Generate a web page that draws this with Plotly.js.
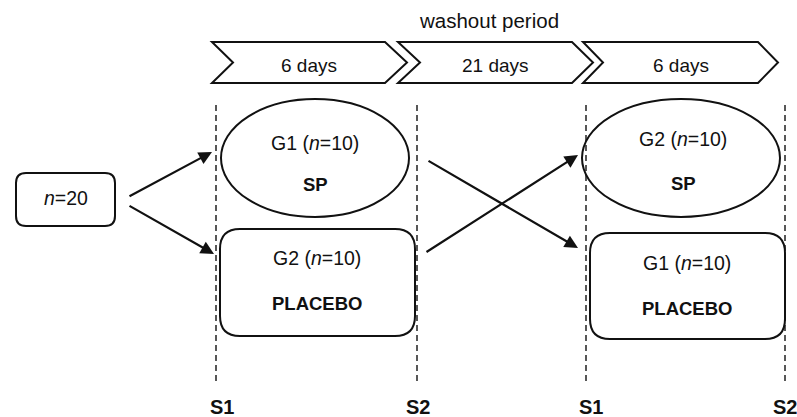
<!DOCTYPE html>
<html>
<head>
<meta charset="utf-8">
<script src="https://cdn.plot.ly/plotly-3.0.1.min.js"></script>
<style>html,body{margin:0;padding:0;background:#fff;}#chart{width:797px;height:417px;}</style>
</head>
<body>
<div id="chart"></div>
<script>
// ---- content (labels) ----
var headerLabel = 'washout period';
var phaseLabels = ['6 days', '21 days', '6 days'];
var totalLabel = '<i>n</i>=20';
var groupLabels = ['G1 (<i>n</i>=10)', 'G2 (<i>n</i>=10)', 'G2 (<i>n</i>=10)', 'G1 (<i>n</i>=10)'];
var treatmentLabels = ['SP', 'PLACEBO', 'SP', 'PLACEBO'];
var sessionLabels = ['S1', 'S2', 'S1', 'S2'];

// ---- layout geometry (diagram coordinates, pixels from top-left) ----
var chevrons = [
  {left: 212, notch: 233, corner: 385, tip: 407},
  {left: 398, notch: 420, corner: 572, tip: 593},
  {left: 583, notch: 603, corner: 758, tip: 778}
];
var chevTop = 42, chevBot = 83, chevMid = 62.5;
var phaseTextPos = [309, 495, 681];
var dashX = [216, 417, 586, 785];
var dashTop = 105, dashBot = 382;
var ellipses = [{x0: 221, x1: 409, y0: 99, y1: 217}, {x0: 582, x1: 780, y0: 99, y1: 217}];
var boxes = [
  {x0: 16, x1: 115, y0: 173, y1: 226, r: 10},
  {x0: 220, x1: 415, y0: 229, y1: 336, r: 20},
  {x0: 590, x1: 785, y0: 233, y1: 339, r: 20}
];
var groupPos = [[315, 143], [317, 258], [683, 139], [687, 263]];
var treatPos = [[315, 184], [317, 303], [683, 183], [687, 308]];
var sessionPos = [222, 418, 591, 785];
var arrows = [
  {from: [128, 197], to: [212, 152]},
  {from: [128, 205], to: [214, 254]},
  {from: [427, 160], to: [578, 248]},
  {from: [425, 253], to: [578, 155]}
];

var FONT = 'Liberation Sans, Arial, sans-serif';
var TXT = '#111';

function roundRect(b) {
  var r = b.r;
  return 'M' + (b.x0 + r) + ',' + b.y0 +
    ' L' + (b.x1 - r) + ',' + b.y0 + ' Q' + b.x1 + ',' + b.y0 + ' ' + b.x1 + ',' + (b.y0 + r) +
    ' L' + b.x1 + ',' + (b.y1 - r) + ' Q' + b.x1 + ',' + b.y1 + ' ' + (b.x1 - r) + ',' + b.y1 +
    ' L' + (b.x0 + r) + ',' + b.y1 + ' Q' + b.x0 + ',' + b.y1 + ' ' + b.x0 + ',' + (b.y1 - r) +
    ' L' + b.x0 + ',' + (b.y0 + r) + ' Q' + b.x0 + ',' + b.y0 + ' ' + (b.x0 + r) + ',' + b.y0 + ' Z';
}

var shapes = [];
chevrons.forEach(function (c) {
  shapes.push({
    type: 'path', xref: 'x', yref: 'y',
    path: 'M' + c.left + ',' + chevTop + ' L' + c.corner + ',' + chevTop + ' L' + c.tip + ',' + chevMid +
      ' L' + c.corner + ',' + chevBot + ' L' + c.left + ',' + chevBot + ' L' + c.notch + ',' + chevMid + ' Z',
    line: {color: '#111', width: 2}, fillcolor: 'rgba(255,255,255,0)'
  });
});
dashX.forEach(function (x) {
  shapes.push({type: 'line', xref: 'x', yref: 'y', x0: x, x1: x, y0: dashTop, y1: dashBot,
    line: {color: '#111', width: 1.4, dash: '6px,4px'}});
});
ellipses.forEach(function (e) {
  shapes.push({type: 'circle', xref: 'x', yref: 'y', x0: e.x0, x1: e.x1, y0: e.y0, y1: e.y1,
    line: {color: '#111', width: 2}, fillcolor: 'rgba(255,255,255,0)'});
});
boxes.forEach(function (b) {
  shapes.push({type: 'path', xref: 'x', yref: 'y', path: roundRect(b),
    line: {color: '#111', width: 2}, fillcolor: 'rgba(255,255,255,0)'});
});

var annotations = [];
function txt(x, y, t, size, bold) {
  annotations.push({x: x, y: y, xref: 'x', yref: 'y', text: bold ? '<b>' + t + '</b>' : t,
    showarrow: false, xanchor: 'center', yanchor: 'middle',
    font: {family: FONT, size: size, color: TXT}});
}
txt(489, 20, headerLabel, 20.5, false);
phaseLabels.forEach(function (t, i) { txt(phaseTextPos[i], 65, t, 19, false); });
txt(66, 198, totalLabel, 19.5, false);
groupLabels.forEach(function (t, i) { txt(groupPos[i][0], groupPos[i][1], t, 19.5, false); });
treatmentLabels.forEach(function (t, i) { txt(treatPos[i][0], treatPos[i][1], t, 18.5, true); });
sessionLabels.forEach(function (t, i) { txt(sessionPos[i], 407, t, 20, true); });
arrows.forEach(function (a) {
  annotations.push({x: a.to[0], y: a.to[1], ax: a.from[0], ay: a.from[1], xref: 'x', yref: 'y',
    axref: 'x', ayref: 'y', text: '', showarrow: true, arrowhead: 2, arrowsize: 1.2,
    arrowwidth: 2.2, arrowcolor: '#111', standoff: 0, startstandoff: 0});
});

var layout = {
  width: 797, height: 417,
  margin: {l: 0, r: 0, t: 0, b: 0},
  paper_bgcolor: '#fff', plot_bgcolor: '#fff',
  showlegend: false,
  xaxis: {range: [0, 797], visible: false, fixedrange: true},
  yaxis: {range: [417, 0], visible: false, fixedrange: true},
  shapes: shapes,
  annotations: annotations
};
Plotly.newPlot('chart', [{x: [], y: [], type: 'scatter', hoverinfo: 'skip'}], layout,
  {staticPlot: true, displayModeBar: false});
</script>
</body>
</html>
